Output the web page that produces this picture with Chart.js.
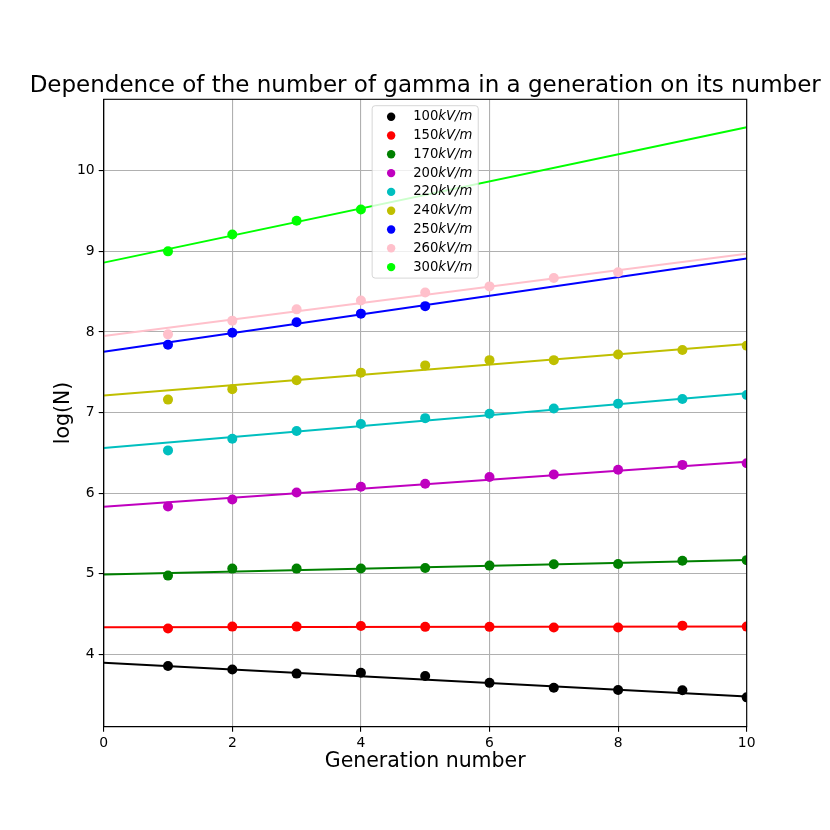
<!DOCTYPE html>
<html>
<head>
<meta charset="utf-8">
<script src="https://cdn.jsdelivr.net/npm/chart.js@4"></script>
<style>
  html, body { margin: 0; padding: 0; background: #fff; }
  canvas { display: block; }
</style>
</head>
<body>
<canvas id="gammaChart" width="830" height="830"></canvas>
<script>
// Generation numbers (x) and field strengths
const generations = [1, 2, 3, 4, 5, 6, 7, 8, 9, 10];
const fieldLabels = ["100", "150", "170", "200", "220", "240", "250", "260", "300"];
const fieldColors = ["#000000", "#ff0000", "#008000", "#bf00bf", "#00bfbf", "#bfbf00", "#0000ff", "#ffc0cb", "#00ff00"];

// log(N) per generation
const logN_100 = [3.855, 3.81, 3.76, 3.77, 3.73, 3.645, 3.585, 3.556, 3.553, 3.465];
const logN_150 = [4.32, 4.343, 4.343, 4.35, 4.34, 4.34, 4.333, 4.333, 4.355, 4.343];
const logN_170 = [4.976, 5.063, 5.063, 5.065, 5.07, 5.10, 5.118, 5.12, 5.16, 5.168];
const logN_200 = [5.834, 5.92, 6.007, 6.078, 6.115, 6.20, 6.23, 6.29, 6.35, 6.37];
const logN_220 = [6.53, 6.675, 6.77, 6.857, 6.93, 6.985, 7.05, 7.11, 7.168, 7.218];
const logN_240 = [7.16, 7.29, 7.40, 7.495, 7.585, 7.65, 7.65, 7.72, 7.776, 7.83];
const logN_250 = [7.84, 7.99, 8.12, 8.227, 8.32];
const logN_260 = [7.97, 8.14, 8.28, 8.39, 8.49, 8.565, 8.67, 8.74];
const logN_300 = [9.0, 9.21, 9.38, 9.52];

// fitted lines: value at generation 0 and at generation 10
const fitStart = [3.896, 4.335, 4.99, 5.83, 6.56, 7.21, 7.755, 7.95, 8.86];
const fitEnd = [3.477, 4.343, 5.17, 6.39, 7.24, 7.85, 8.91, 8.97, 10.54];

const xTicks = [0, 2, 4, 6, 8, 10];
const yTicks = [4, 5, 6, 7, 8, 9, 10];

const chartTitle = "Dependence of the number of gamma in a generation on its number";

const allSeries = [logN_100, logN_150, logN_170, logN_200, logN_220, logN_240, logN_250, logN_260, logN_300];

const FONT = "'DejaVu Sans', sans-serif";

const datasets = [];
allSeries.forEach((vals, i) => {
  datasets.push({
    label: fieldLabels[i] + "kV/m",
    data: vals.map((v, k) => ({ x: generations[k], y: v })),
    backgroundColor: fieldColors[i],
    borderColor: fieldColors[i],
    pointRadius: 5,
    pointBorderWidth: 0,
    showLine: false,
    clip: 0,
    order: 1,
  });
  datasets.push({
    label: "fit " + fieldLabels[i],
    data: [{ x: xTicks[0], y: fitStart[i] }, { x: xTicks[xTicks.length - 1], y: fitEnd[i] }],
    borderColor: fieldColors[i],
    borderWidth: 2,
    pointRadius: 0,
    showLine: true,
    clip: 0,
    order: 2,
  });
});

// title centred on the axes, top/right spines and the legend box inside the axes
const framePlugin = {
  id: "frameAndLegend",
  afterDraw(chart) {
    const { ctx, chartArea: a } = chart;
    ctx.save();
    ctx.strokeStyle = "#000";
    ctx.lineWidth = 1.1;
    ctx.strokeRect(a.left, a.top, a.right - a.left, a.bottom - a.top);

    // title
    ctx.fillStyle = "#000";
    ctx.font = "23px " + FONT;
    ctx.textAlign = "center";
    ctx.textBaseline = "alphabetic";
    ctx.fillText(chartTitle, (a.left + a.right) / 2, a.top - 7.5);

    // legend
    const fs = 13.2;
    const rowH = 18.8;
    const numFont = fs + "px " + FONT;
    const itFont = "italic " + fs + "px " + FONT;
    let maxW = 0;
    fieldLabels.forEach(t => {
      ctx.font = numFont;
      let w = ctx.measureText(t).width;
      ctx.font = itFont;
      w += ctx.measureText("kV/m").width;
      maxW = Math.max(maxW, w);
    });
    const boxW = 41 + maxW + 6;
    const boxH = 11 + rowH * (fieldLabels.length - 1) + 11;
    const bx = (a.left + a.right) / 2 - boxW / 2;
    const by = a.top + 6.4;

    ctx.beginPath();
    ctx.roundRect(bx, by, boxW, boxH, 3);
    ctx.fillStyle = "rgba(255,255,255,0.8)";
    ctx.fill();
    ctx.strokeStyle = "rgba(204,204,204,0.8)";
    ctx.lineWidth = 1;
    ctx.stroke();

    ctx.textBaseline = "middle";
    ctx.textAlign = "left";
    fieldLabels.forEach((t, i) => {
      const cy = by + 11 + rowH * i;
      ctx.beginPath();
      ctx.arc(bx + 19, cy, 4.2, 0, Math.PI * 2);
      ctx.fillStyle = fieldColors[i];
      ctx.fill();
      ctx.fillStyle = "#000";
      ctx.font = numFont;
      ctx.fillText(t, bx + 41, cy);
      const w = ctx.measureText(t).width;
      ctx.font = itFont;
      ctx.fillText("kV/m", bx + 41 + w, cy);
    });
    ctx.restore();
  }
};

new Chart(document.getElementById("gammaChart"), {
  type: "scatter",
  data: { datasets },
  plugins: [framePlugin],
  options: {
    responsive: false,
    animation: false,
    devicePixelRatio: 1,
    layout: { padding: { left: 0, right: 83.3, top: 99.3, bottom: 0 } },
    plugins: {
      legend: { display: false },
      tooltip: { enabled: false },
      title: { display: false },
    },
    scales: {
      x: {
        type: "linear",
        min: 0,
        max: 10,
        afterBuildTicks: s => { s.ticks = xTicks.map(v => ({ value: v })); },
        afterFit: s => { s.height = 103.3; },
        ticks: { color: "#000", font: { family: FONT, size: 13.9 }, padding: 3, maxRotation: 0 },
        grid: { color: "#b0b0b0", lineWidth: 1.1, tickColor: "#000", tickLength: 5, tickWidth: 1.1 },
        border: { color: "#000", width: 1.1 },
        title: {
          display: true,
          text: "Generation number",
          color: "#000",
          font: { family: FONT, size: 20.5, lineHeight: 1.2 },
          padding: { top: 0, bottom: 56 },
        },
      },
      y: {
        type: "linear",
        min: 3.101,
        max: 10.887,
        afterBuildTicks: s => { s.ticks = yTicks.map(v => ({ value: v })); },
        afterFit: s => { s.width = 103.7; },
        ticks: { color: "#000", font: { family: FONT, size: 13.9 }, padding: 4 },
        grid: { color: "#b0b0b0", lineWidth: 1.1, tickColor: "#000", tickLength: 5, tickWidth: 1.1 },
        border: { color: "#000", width: 1.1 },
        title: {
          display: true,
          text: "log(N)",
          color: "#000",
          font: { family: FONT, size: 20.5, lineHeight: 1.2 },
          padding: { top: 51, bottom: 0 },
        },
      },
    },
  },
});
</script>
</body>
</html>
